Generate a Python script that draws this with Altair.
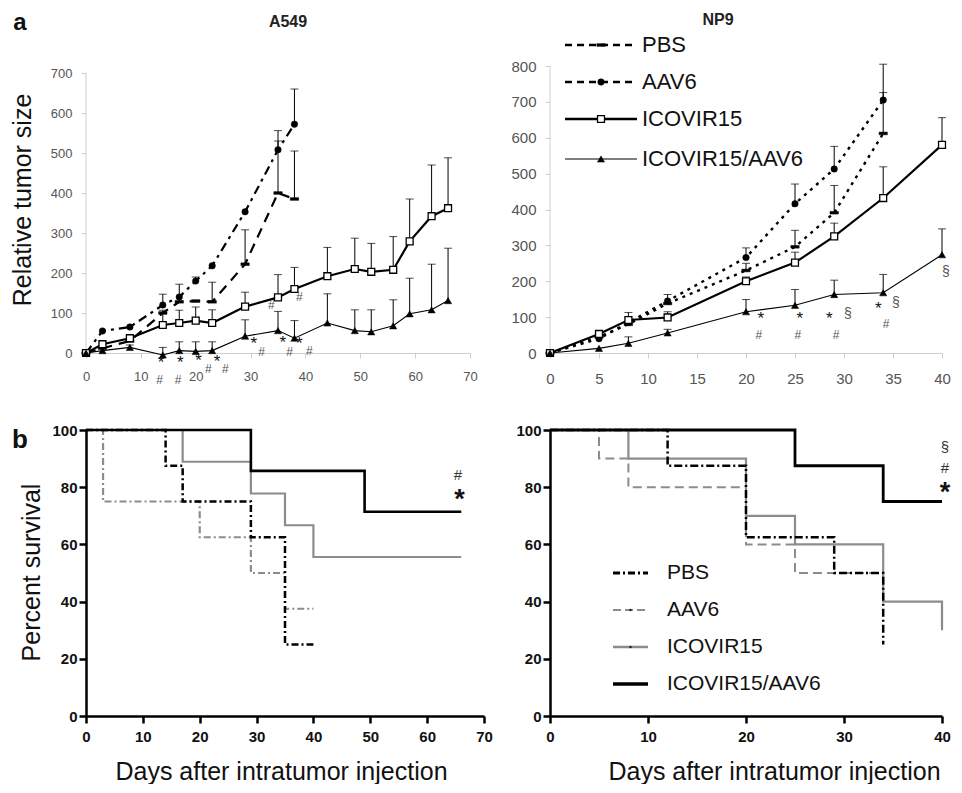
import altair as alt
import pandas as pd

FONT = "Liberation Sans"
NAN = float("nan")
SERIES = ["PBS", "AAV6", "ICOVIR15", "ICOVIR15/AAV6"]

# ---------------- (a) A549 relative tumour size ----------------
a_days_pbs = [0, 3, 8, 14, 17, 20, 23, 29, 35, 38]
a_pbs = [0, 12, 30, 100, 128, 130, 128, 222, 400, 385]
a_pbs_top = [NAN, NAN, NAN, NAN, NAN, NAN, 177, 308, 530, 505]
a_days_aav = [0, 3, 8, 14, 17, 20, 23, 29, 35, 38]
a_aav = [0, 55, 65, 120, 140, 180, 218, 353, 508, 572]
a_aav_top = [NAN, NAN, NAN, 147, 172, 190, NAN, NAN, 556, 660]
a_days = [0, 3, 8, 14, 17, 20, 23, 29, 35, 38, 44, 49, 52, 56, 59, 63, 66]
a_ico = [0, 22, 37, 70, 75, 81, 75, 116, 139, 160, 192, 210, 203, 208, 279, 342, 362]
a_ico_top = [NAN, 28, 45, 107, 107, 115, 108, 152, 196, 214, 264, 287, 274, 291, 385, 470, 488]
a_combo = [0, 6, 14, -5, 6, 4, 6, 42, 56, 37, 75, 56, 53, 68, 98, 108, 131]
a_combo_top = [NAN, NAN, 20, 14, 28, 28, 28, 83, 104, 81, 148, 108, 108, 133, 187, 222, 262]

a_ann_text = ["*", "#", "*", "#", "*", "#", "*", "#", "*", "#", "*", "#", "*", "#", "#", "#"]
a_ann_day = [13.7, 13.4, 17.2, 16.8, 20.5, 22.3, 23.9, 25.4, 30.6, 32.0, 35.9, 37.1, 38.9, 40.7, 33.8, 38.9]
a_ann_val = [-14, -66, -14, -66, -9, -38, -12, -37, 32, 6, 34, 6, 32, 8, 122, 143]

# ---------------- (a) NP9 relative tumour size ----------------
n_days = [0, 5, 8, 12, 20, 25, 29, 34, 40]
n_days_ctrl = [0, 5, 8, 12, 20, 25, 29, 34]
n_pbs = [0, 45, 80, 138, 230, 296, 391, 612]
n_pbs_top = [NAN, NAN, NAN, NAN, 250, 342, 467, 726]
n_aav = [0, 40, 85, 145, 266, 416, 513, 705]
n_aav_top = [NAN, NAN, NAN, 163, 293, 471, 576, 805]
n_ico = [0, 53, 92, 99, 200, 252, 325, 432, 580]
n_ico_top = [NAN, 60, 113, 115, 212, 281, 362, 519, 656]
n_combo = [0, 13, 27, 56, 115, 133, 163, 168, 274]
n_combo_top = [NAN, NAN, 45, 66, 149, 177, 203, 219, 346]

n_ann_text = ["*", "#", "*", "#", "*", "#", "§", "*", "#", "§", "§"]
n_ann_day = [21.5, 21.3, 25.5, 25.3, 28.5, 29.2, 30.4, 33.5, 34.3, 35.3, 40.4]
n_ann_val = [105, 54, 105, 54, 107, 54, 110, 135, 85, 138, 226]

# ---------------- (b) survival, A549 ----------------
sa_pbs_day = [0, 14, 17, 29, 35, 40]
sa_pbs = [100, 87.5, 75, 62.5, 25, 25]
sa_aav_day = [0, 3, 20, 29, 35, 40]
sa_aav = [100, 75, 62.5, 50, 37.5, 37.5]
sa_ico_day = [0, 17, 29, 35, 40, 66]
sa_ico = [100, 88.9, 77.8, 66.7, 55.6, 55.6]
sa_combo_day = [0, 29, 49, 66]
sa_combo = [100, 85.7, 71.4, 71.4]
sa_ann_text = ["#", "*"]
sa_ann_day = [65.4, 65.7]
sa_ann_val = [84.5, 78]

# ---------------- (b) survival, NP9 ----------------
sn_pbs_day = [0, 12, 20, 29, 34]
sn_pbs = [100, 87.5, 62.5, 50, 25]
sn_aav_day = [0, 5, 8, 20, 25, 34]
sn_aav = [100, 90, 80, 60, 50, 50]
sn_ico_day = [0, 8, 20, 25, 34, 40]
sn_ico = [100, 90, 70, 60, 40, 30]
sn_combo_day = [0, 25, 34, 40]
sn_combo = [100, 87.5, 75, 75]
sn_ann_text = ["§", "#", "*"]
sn_ann_day = [40.3, 40.3, 40.3]
sn_ann_val = [94, 87, 80.5]

X_TITLE = "Days after intratumor injection"

DASH_PATH = "M-1,-0.32L1,-0.32L1,0.32L-1,0.32Z"
MARKERS = {
    "PBS": dict(shape=DASH_PATH, size=70, filled=True, fill="black", stroke="black", strokeWidth=0.5),
    "AAV6": dict(shape="circle", size=42, filled=True, fill="black", stroke="black", strokeWidth=0.5),
    "ICOVIR15": dict(shape="square", size=48, filled=True, fill="white", stroke="black", strokeWidth=1.3),
    "ICOVIR15/AAV6": dict(shape="triangle-up", size=52, filled=True, fill="black", stroke="black", strokeWidth=0.5),
}
AXIS_GRAY = "#cfcfcf"


def growth_df(days_list, vals_list, tops_list):
    recs = []
    for name, days, vals, tops in zip(SERIES, days_list, vals_list, tops_list):
        for d, v, t in zip(days, vals, tops):
            recs.append({"series": name, "day": d, "value": v, "top": t})
    return pd.DataFrame(recs)


def ann_df(texts, days, vals):
    return pd.DataFrame({"t": texts, "day": days, "value": vals})


def legend_layers(items, x1, x2, xm, xt, ys, fs):
    out = []
    for (name, line_kw, mark_kw), yv in zip(items, ys):
        d = pd.DataFrame({"label": [name]})
        out.append(alt.Chart(d).mark_rule(**line_kw).encode(
            x=alt.value(x1), x2=alt.value(x2), y=alt.value(yv)))
        if mark_kw:
            out.append(alt.Chart(d).mark_point(opacity=1, **mark_kw).encode(
                x=alt.value(xm), y=alt.value(yv)))
        out.append(alt.Chart(d).mark_text(align="left", baseline="middle", font=FONT,
                                          fontSize=fs, color="#111111").encode(
            x=alt.value(xt), y=alt.value(yv), text="label:N"))
    return out


def growth_panel(df, styles, ann, xdom, xvals, ydom, yvals, w, h, lab, xpad, ypad, extra):
    common = dict(tickColor=AXIS_GRAY, labelColor="#555555",
                  labelFont=FONT, labelFontSize=lab, grid=False, title=None,
                  tickSize=5, labelFlush=False, labelOverlap=False)
    xax = alt.Axis(values=xvals, labelPadding=xpad, domainColor=AXIS_GRAY, **common)
    yax = alt.Axis(values=yvals, labelPadding=ypad, domain=False, **common)
    xs = alt.Scale(domain=xdom, nice=False, zero=False)
    ys = alt.Scale(domain=ydom, nice=False, zero=False)

    def X(f="day"):
        return alt.X(f"{f}:Q", scale=xs, axis=xax)

    def Y(f="value"):
        return alt.Y(f"{f}:Q", scale=ys, axis=yax)

    # y-axis line drawn from the first to the last tick value
    ax_line = pd.DataFrame({"day": [xdom[0]], "value": [yvals[0]], "top": [yvals[-1]]})
    base = [alt.Chart(ax_line).mark_rule(color=AXIS_GRAY, strokeWidth=1).encode(
        x=X(), y=Y(), y2="top:Q")]

    lines, errs, pts = [], [], []
    for name in SERIES:
        sub = df[df.series == name]
        err = sub.dropna(subset=["top"])
        lines.append(alt.Chart(sub).mark_line(color="black", **styles[name]).encode(x=X(), y=Y()))
        if len(err):
            errs.append(alt.Chart(err).mark_rule(color="black", strokeWidth=1).encode(
                x=X(), y=Y(), y2="top:Q"))
            errs.append(alt.Chart(err).mark_tick(orient="horizontal", size=8, thickness=1,
                                                 color="black").encode(x=X(), y=Y("top")))
        pts.append(alt.Chart(sub).mark_point(opacity=1, **MARKERS[name]).encode(x=X(), y=Y()))

    anns = []
    glyph_style = {
        "*": dict(fontSize=17, color="#111111", dy=4),
        "#": dict(fontSize=12, color="#555555", dy=1),
        "§": dict(fontSize=14, color="#555555", dy=0),
    }
    for g, st in glyph_style.items():
        sub = ann[ann.t == g]
        if len(sub):
            anns.append(alt.Chart(sub).mark_text(font=FONT, align="center", baseline="middle",
                                                 **st).encode(x=X(), y=Y(), text="t:N"))
    return alt.layer(*(base + lines + errs + pts + anns + extra)).properties(width=w, height=h)


def survival_panel(series_data, styles, ann, xdom, xvals, w, h, ytitle, ytitle_x, ytitle_y,
                   xtitle_x, extra):
    common = dict(domainColor="#000000", domainWidth=2.5, tickColor="#000000", tickWidth=2.5,
                  tickSize=7, labelColor="#111111", labelFont=FONT, labelFontSize=15,
                  labelFontWeight="bold", grid=False, labelFlush=False, labelOverlap=False,
                  titleFont=FONT, titleFontSize=25, titleFontWeight="normal",
                  titleColor="#111111", titleAlign="center")
    xax = alt.Axis(values=xvals, labelPadding=6, title=X_TITLE, titleX=xtitle_x, titleY=63,
                   titleBaseline="alphabetic", **common)
    if ytitle:
        yax = alt.Axis(values=[0, 20, 40, 60, 80, 100], labelPadding=2, title=ytitle,
                       titleX=ytitle_x, titleY=ytitle_y, titleAngle=-90,
                       titleBaseline="middle", **common)
    else:
        yax = alt.Axis(values=[0, 20, 40, 60, 80, 100], labelPadding=2, title=None, **common)
    xs = alt.Scale(domain=xdom, nice=False, zero=False)
    ys = alt.Scale(domain=[0, 100], nice=False, zero=False)

    layers = []
    for name in ["ICOVIR15", "AAV6", "PBS", "ICOVIR15/AAV6"]:
        days, vals = series_data[name]
        d = pd.DataFrame({"day": days, "pct": vals, "series": name})
        layers.append(alt.Chart(d).mark_line(interpolate="step-after", **styles[name]).encode(
            x=alt.X("day:Q", scale=xs, axis=xax), y=alt.Y("pct:Q", scale=ys, axis=yax)))
    for g, st in {"#": dict(fontSize=15, color="#333333", dy=1),
                  "§": dict(fontSize=15, color="#333333", dy=0),
                  "*": dict(fontSize=27, fontWeight="bold", color="#111111", dy=7)}.items():
        sub = ann[ann.t == g]
        if len(sub):
            layers.append(alt.Chart(sub).mark_text(font=FONT, align="center", baseline="middle",
                                                   **st).encode(
                x=alt.X("day:Q", scale=xs, axis=xax),
                y=alt.Y("value:Q", scale=ys, axis=yax), text="t:N"))
    return alt.layer(*(layers + extra)).properties(width=w, height=h)


# ---------- panel geometry (right column starts at 86 + 398 + 66 = 550) ----------
TL_W, TR_W, T_H = 384, 392, 287
BL_W, BR_W, B_H = 398, 392, 286

# ---------- top-left: A549 ----------
a_df = growth_df([a_days_pbs, a_days_aav, a_days, a_days],
                 [a_pbs, a_aav, a_ico, a_combo],
                 [a_pbs_top, a_aav_top, a_ico_top, a_combo_top])
a_styles = {
    "PBS": dict(strokeWidth=2.2, strokeDash=[10, 7]),
    "AAV6": dict(strokeWidth=2.2, strokeDash=[9, 5, 3, 5]),
    "ICOVIR15": dict(strokeWidth=2.2),
    "ICOVIR15/AAV6": dict(strokeWidth=1.1),
}
one = pd.DataFrame({"label": ["a"]})
tl_extra = [
    alt.Chart(one).mark_rule(opacity=0).encode(
        x=alt.value(-78), x2=alt.value(-78), y=alt.value(-58), y2=alt.value(-56)),
    alt.Chart(one).mark_text(font=FONT, fontSize=24, fontWeight="bold", align="center",
                             baseline="alphabetic", color="#111111").encode(
        x=alt.value(-66), y=alt.value(-36), text=alt.value("a")),
    alt.Chart(one).mark_text(font=FONT, fontSize=16, fontWeight="bold", align="center",
                             baseline="alphabetic", color="#222222").encode(
        x=alt.value(202), y=alt.value(-39), text=alt.value("A549")),
    alt.Chart(one).mark_text(font=FONT, fontSize=25, align="center", baseline="middle",
                             angle=270, color="#111111").encode(
        x=alt.value(-63), y=alt.value(134), text=alt.value("Relative tumor size")),
]
TL = growth_panel(a_df, a_styles, ann_df(a_ann_text, a_ann_day, a_ann_val),
                  [0, 70], list(range(0, 71, 10)), [0, 717.5], list(range(0, 701, 100)),
                  TL_W, T_H, 13, 12, 9, tl_extra)

# ---------- top-right: NP9 ----------
n_df = growth_df([n_days_ctrl, n_days_ctrl, n_days, n_days],
                 [n_pbs, n_aav, n_ico, n_combo],
                 [n_pbs_top, n_aav_top, n_ico_top, n_combo_top])
n_styles = {
    "PBS": dict(strokeWidth=2.4, strokeDash=[3, 5]),
    "AAV6": dict(strokeWidth=2.4, strokeDash=[3, 5]),
    "ICOVIR15": dict(strokeWidth=2.2),
    "ICOVIR15/AAV6": dict(strokeWidth=1.1),
}
top_leg_items = [
    ("PBS", dict(color="black", strokeWidth=2.5, strokeDash=[7, 5]), MARKERS["PBS"]),
    ("AAV6", dict(color="black", strokeWidth=2.5, strokeDash=[7, 5]), MARKERS["AAV6"]),
    ("ICOVIR15", dict(color="black", strokeWidth=2.5), MARKERS["ICOVIR15"]),
    ("ICOVIR15/AAV6", dict(color="black", strokeWidth=1.2), MARKERS["ICOVIR15/AAV6"]),
]
tr_extra = legend_layers(top_leg_items, 15, 87, 51, 92, [-21, 16, 53, 93], 22) + [
    alt.Chart(one).mark_text(font=FONT, fontSize=16, fontWeight="bold", align="center",
                             baseline="alphabetic", color="#222222").encode(
        x=alt.value(168), y=alt.value(-41), text=alt.value("NP9")),
]
TR = growth_panel(n_df, n_styles, ann_df(n_ann_text, n_ann_day, n_ann_val),
                  [0, 40], list(range(0, 41, 5)), [0, 800], list(range(0, 801, 100)),
                  TR_W, T_H, 15, 13, 9, tr_extra)

# ---------- bottom-left: survival A549 ----------
GRAY = "#8c8c8c"
bl_styles = {
    "PBS": dict(color="black", strokeWidth=2.5, strokeDash=[7, 3, 2, 3]),
    "AAV6": dict(color=GRAY, strokeWidth=2.2, strokeDash=[7, 3, 2, 3]),
    "ICOVIR15": dict(color=GRAY, strokeWidth=2.2),
    "ICOVIR15/AAV6": dict(color="black", strokeWidth=2.6),
}
bl_extra = [
    alt.Chart(one).mark_text(font=FONT, fontSize=26, fontWeight="bold", align="center",
                             baseline="alphabetic", color="#111111").encode(
        x=alt.value(-66), y=alt.value(18), text=alt.value("b")),
]
BL = survival_panel({"PBS": (sa_pbs_day, sa_pbs), "AAV6": (sa_aav_day, sa_aav),
                     "ICOVIR15": (sa_ico_day, sa_ico), "ICOVIR15/AAV6": (sa_combo_day, sa_combo)},
                    bl_styles, ann_df(sa_ann_text, sa_ann_day, sa_ann_val),
                    [0, 70], list(range(0, 71, 10)), BL_W, B_H, "Percent survival", -55, 142,
                    195, bl_extra)

# ---------- bottom-right: survival NP9 ----------
br_styles = {
    "PBS": dict(color="black", strokeWidth=2.5, strokeDash=[8, 3, 2, 3]),
    "AAV6": dict(color=GRAY, strokeWidth=2.0, strokeDash=[9, 5]),
    "ICOVIR15": dict(color=GRAY, strokeWidth=2.2),
    "ICOVIR15/AAV6": dict(color="black", strokeWidth=2.8),
}
small_dot = dict(shape="circle", size=6, filled=True, fill="#222222", stroke="#222222", strokeWidth=0)
bot_leg_items = [
    ("PBS", dict(color="black", strokeWidth=3, strokeDash=[7, 3, 2, 3]), None),
    ("AAV6", dict(color=GRAY, strokeWidth=2.2, strokeDash=[8, 4]), small_dot),
    ("ICOVIR15", dict(color=GRAY, strokeWidth=2.4), small_dot),
    ("ICOVIR15/AAV6", dict(color="black", strokeWidth=3.5), None),
]
br_extra = legend_layers(bot_leg_items, 63, 98, 80.5, 117, [143, 180, 217, 254], 21)
BR = survival_panel({"PBS": (sn_pbs_day, sn_pbs), "AAV6": (sn_aav_day, sn_aav),
                     "ICOVIR15": (sn_ico_day, sn_ico), "ICOVIR15/AAV6": (sn_combo_day, sn_combo)},
                    br_styles, ann_df(sn_ann_text, sn_ann_day, sn_ann_val),
                    [0, 40], list(range(0, 41, 10)), BR_W, B_H, None, 0, 0, 224, br_extra)

chart = alt.concat(TL, TR, BL, BR, columns=2, spacing={"row": 77, "column": 66},
                   align="none", bounds="flush").properties(
    padding=0, background="white").configure_view(stroke=None)

chart.save("out.html", embed_options={"renderer": "svg", "actions": False})
